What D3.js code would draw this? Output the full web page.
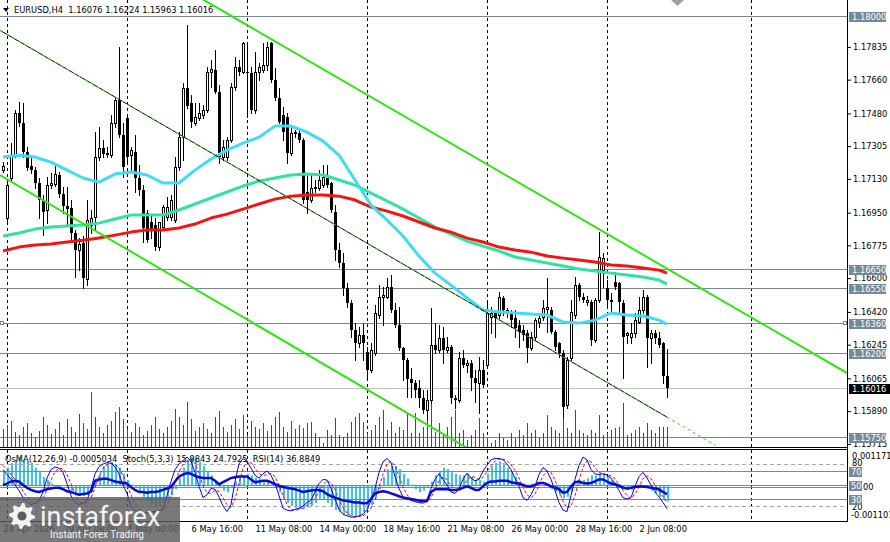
<!DOCTYPE html>
<meta charset="utf-8">
<style>
body { margin: 0; background: #fff; }
svg text { font-family: "DejaVu Sans", Tahoma, sans-serif; font-size: 8.3px; fill: #000; }
</style>
<body>
<script src="https://d3js.org/d3.v7.min.js"></script>
<script>
// EURUSD H4 bars, oldest first (24 Apr 20:00 .. 2 Jun 20:00)
var open = [1.17177,1.16921,1.17135,1.17257,1.17482,1.17428,1.17273,1.17199,1.17177,1.17108,
1.17017,1.16964,1.17097,1.17103,1.17151,1.17049,1.16985,1.16974,1.16841,1.16750,
1.16787,1.16595,1.16884,1.16926,1.17247,1.17295,1.17268,1.17257,1.17428,1.17551,
1.17364,1.17455,1.17257,1.17273,1.17135,1.17070,1.16948,1.16900,1.16884,1.16766,
1.16873,1.16926,1.16926,1.16910,1.17193,1.17353,1.17615,1.17535,1.17428,1.17455,
1.17471,1.17498,1.17701,1.17711,1.17594,1.17247,1.17247,1.17337,1.17620,1.17727,
1.17701,1.17701,1.17695,1.17498,1.17701,1.17711,1.17738,1.17855,1.17658,1.17562,
1.17471,1.17460,1.17268,1.17375,1.17375,1.17337,1.17060,1.17017,1.17081,1.17081,
1.17097,1.17135,1.17108,1.16953,1.16750,1.16681,1.16547,1.16467,1.16323,1.16253,
1.16296,1.16205,1.16109,1.16200,1.16403,1.16499,1.16499,1.16552,1.16430,1.16350,
1.16227,1.16163,1.16062,1.16040,1.16013,1.15960,1.15896,1.15949,1.16242,1.16216,
1.16280,1.16216,1.16232,1.15960,1.15949,1.16173,1.16136,1.16147,1.16067,1.16040,
1.16109,1.16136,1.16392,1.16414,1.16403,1.16494,1.16419,1.16419,1.16387,1.16350,
1.16323,1.16307,1.16227,1.16285,1.16366,1.16392,1.16435,1.16430,1.16312,1.16253,
1.16200,1.15922,1.16173,1.16403,1.16563,1.16499,1.16472,1.16472,1.16269,1.16483,
1.16643,1.16547,1.16483,1.16579,1.16574,1.16467,1.16296,1.16285,1.16307,1.16366,
1.16430,1.16499,1.16280,1.16307,1.16280,1.16253,1.16076];
var high = [1.17220,1.17113,1.17321,1.17498,1.17540,1.17535,1.17300,1.17247,1.17193,1.17135,
1.17044,1.17140,1.17161,1.17199,1.17167,1.17087,1.17087,1.17017,1.16857,1.16814,
1.16825,1.17017,1.16964,1.17380,1.17407,1.17337,1.17300,1.17471,1.17567,1.17834,
1.17428,1.17466,1.17300,1.17364,1.17204,1.17097,1.16964,1.16937,1.16921,1.16884,
1.16990,1.17033,1.17044,1.17247,1.17380,1.17642,1.17952,1.17578,1.17535,1.17535,
1.17524,1.17727,1.17765,1.17818,1.17631,1.17337,1.17353,1.17642,1.17781,1.17765,
1.17861,1.17861,1.17727,1.17807,1.17749,1.17855,1.17861,1.17861,1.17722,1.17615,
1.17514,1.17482,1.17407,1.17391,1.17391,1.17348,1.17161,1.17151,1.17124,1.17177,
1.17204,1.17204,1.17113,1.16990,1.16787,1.16734,1.16574,1.16483,1.16360,1.16339,
1.16360,1.16232,1.16253,1.16456,1.16563,1.16552,1.16600,1.16617,1.16467,1.16446,
1.16232,1.16173,1.16120,1.16056,1.16056,1.16002,1.16002,1.16440,1.16360,1.16350,
1.16339,1.16285,1.16242,1.15976,1.16205,1.16216,1.16163,1.16163,1.16109,1.16179,
1.16163,1.16472,1.16446,1.16430,1.16526,1.16504,1.16440,1.16430,1.16430,1.16376,
1.16350,1.16323,1.16312,1.16387,1.16414,1.16483,1.16600,1.16446,1.16323,1.16259,
1.16216,1.16179,1.16483,1.16606,1.16574,1.16520,1.16504,1.16483,1.16494,1.16846,
1.16734,1.16590,1.16520,1.16633,1.16579,1.16483,1.16312,1.16360,1.16414,1.16499,
1.16536,1.16510,1.16323,1.16323,1.16312,1.16259,1.16224];
var low = [1.17167,1.16905,1.17124,1.17247,1.17412,1.17247,1.17177,1.17161,1.17081,1.16921,
1.16830,1.16894,1.17081,1.17092,1.17033,1.16948,1.16884,1.16803,1.16606,1.16643,
1.16547,1.16563,1.16841,1.16857,1.17231,1.17247,1.17247,1.17247,1.17407,1.17353,
1.17140,1.17220,1.17177,1.17060,1.17044,1.16793,1.16793,1.16814,1.16750,1.16750,
1.16857,1.16910,1.16910,1.16900,1.17177,1.17231,1.17508,1.17407,1.17418,1.17444,
1.17455,1.17487,1.17620,1.17588,1.17215,1.17231,1.17231,1.17327,1.17604,1.17685,
1.17695,1.17460,1.17482,1.17482,1.17658,1.17701,1.17711,1.17647,1.17551,1.17428,
1.17337,1.17215,1.17257,1.17353,1.17327,1.17001,1.16948,1.17006,1.17060,1.17070,
1.17087,1.17087,1.16953,1.16697,1.16659,1.16510,1.16446,1.16285,1.16163,1.16232,
1.16163,1.16072,1.16099,1.16189,1.16387,1.16350,1.16494,1.16419,1.16339,1.16216,
1.16056,1.15965,1.15965,1.15965,1.15912,1.15880,1.15842,1.15933,1.16200,1.16205,
1.16147,1.16205,1.15933,1.15906,1.15938,1.16125,1.16099,1.16002,1.15938,1.15880,
1.16019,1.16125,1.16307,1.16285,1.16387,1.16403,1.16392,1.16339,1.16285,1.16232,
1.16269,1.16152,1.16216,1.16269,1.16339,1.16376,1.16312,1.16307,1.16216,1.16179,
1.15858,1.15906,1.16163,1.16387,1.16483,1.16472,1.16456,1.16242,1.16259,1.16472,
1.16552,1.16456,1.16414,1.16542,1.16414,1.16067,1.16253,1.16253,1.16285,1.16360,
1.16414,1.16125,1.16147,1.16253,1.16232,1.16040,1.15963];
var close = [1.17199,1.17097,1.17257,1.17482,1.17428,1.17273,1.17188,1.17177,1.17108,1.17017,
1.16953,1.17097,1.17108,1.17156,1.17049,1.16985,1.16969,1.16841,1.16750,1.16782,
1.16600,1.16910,1.16921,1.17247,1.17295,1.17263,1.17257,1.17428,1.17551,1.17364,
1.17193,1.17247,1.17284,1.17135,1.17070,1.16868,1.16803,1.16857,1.16766,1.16900,
1.16980,1.16980,1.17017,1.17193,1.17353,1.17615,1.17519,1.17434,1.17460,1.17482,
1.17498,1.17701,1.17717,1.17594,1.17247,1.17300,1.17337,1.17620,1.17727,1.17701,
1.17855,1.17695,1.17498,1.17701,1.17727,1.17738,1.17834,1.17658,1.17562,1.17434,
1.17380,1.17268,1.17375,1.17380,1.17337,1.17017,1.17017,1.17081,1.17087,1.17124,
1.17140,1.17097,1.16964,1.16750,1.16681,1.16547,1.16467,1.16323,1.16253,1.16296,
1.16253,1.16109,1.16216,1.16414,1.16499,1.16510,1.16552,1.16430,1.16350,1.16227,
1.16163,1.16062,1.16040,1.16002,1.15960,1.15896,1.15949,1.16242,1.16216,1.16280,
1.16216,1.16232,1.15960,1.15949,1.16173,1.16136,1.16147,1.16067,1.16040,1.16109,
1.16030,1.16414,1.16414,1.16387,1.16499,1.16430,1.16430,1.16376,1.16334,1.16312,
1.16296,1.16227,1.16285,1.16376,1.16387,1.16440,1.16446,1.16312,1.16232,1.16200,
1.15912,1.16163,1.16419,1.16563,1.16499,1.16483,1.16483,1.16269,1.16483,1.16713,
1.16707,1.16483,1.16472,1.16552,1.16472,1.16285,1.16307,1.16307,1.16376,1.16430,
1.16499,1.16280,1.16307,1.16280,1.16242,1.16076,1.16016];
var volume = [1800,2200,2600,1500,1200,2000,2400,1400,1000,1600,
3000,2200,1300,1800,2500,1200,2800,2000,1500,3300,
2400,1800,5500,3000,2000,1400,2200,2600,3500,4000,
2800,1800,1500,2400,2000,1200,1600,2200,3000,1800,
1400,2000,2600,3800,3000,2200,4500,2800,1600,2000,
2400,1800,1400,3000,3600,2000,1500,2200,2800,1800,
3200,1200,2600,2000,1800,2400,1600,2200,3000,3500,
2000,1500,2600,1800,2200,1870,2370,2530,1370,1030,
370,1700,1200,2870,1200,1000,1370,2500,3000,3370,
2500,1370,1700,2200,3000,3700,1700,2500,1370,2000,
1700,3370,1370,3370,1370,2000,2700,4700,1500,2370,
1200,2000,3000,3700,1370,1700,700,1200,1700,2870,
1370,870,370,700,1370,870,700,1370,870,1700,
1200,2370,1370,1700,870,1370,3200,2000,1700,1370,
2870,1870,1370,3700,1700,1370,1200,1700,1370,3200,
1200,1370,1700,1870,2000,4370,1200,1370,1700,2000,
1370,2370,1700,1370,2000,2000,2000];

// moving averages, read every 4th bar
var maBars = [0,4,8,12,16,20,24,28,32,36,40,44,48,52,56,60,64,68,72,76,80,84,88,92,96,100,
104,108,112,116,120,124,128,132,136,140,144,148,152,156,160,164,166];
var maFast = [1.17247,1.17257,1.17247,1.17220,1.17177,1.17135,1.17113,1.17156,1.17167,1.17151,
1.17108,1.17108,1.17177,1.17236,1.17284,1.17321,1.17353,1.17412,1.17412,1.17380,
1.17332,1.17257,1.17124,1.16990,1.16910,1.16825,1.16718,1.16627,1.16563,1.16494,
1.16430,1.16419,1.16414,1.16409,1.16403,1.16366,1.16360,1.16376,1.16414,1.16403,
1.16398,1.16376,1.16355];
var maMid = [1.16825,1.16841,1.16862,1.16873,1.16878,1.16884,1.16894,1.16916,1.16937,1.16937,
1.16937,1.16964,1.16996,1.17028,1.17060,1.17092,1.17118,1.17135,1.17151,1.17156,
1.17151,1.17124,1.17097,1.17054,1.17012,1.16969,1.16921,1.16873,1.16835,1.16798,
1.16771,1.16745,1.16713,1.16697,1.16681,1.16665,1.16649,1.16638,1.16627,1.16617,
1.16606,1.16590,1.16568];
var maSlow = [1.16745,1.16766,1.16777,1.16782,1.16793,1.16803,1.16814,1.16830,1.16846,1.16857,
1.16857,1.16868,1.16889,1.16921,1.16942,1.16969,1.16996,1.17022,1.17038,1.17044,
1.17044,1.17038,1.17017,1.16980,1.16958,1.16932,1.16900,1.16868,1.16846,1.16814,
1.16793,1.16766,1.16750,1.16739,1.16718,1.16707,1.16697,1.16686,1.16670,1.16665,
1.16654,1.16643,1.16627];

// sub window: OsMA(12,26,9), Stoch(5,3,3), RSI(14)
var osma = [0.00050,0.00060,0.00075,0.00085,0.00095,0.00085,0.00080,0.00075,0.00060,0.00050,
0.00030,0.00020,0.00008,0.00003,-0.00002,0.00002,-0.00005,-0.00015,-0.00025,-0.00030,
-0.00032,-0.00028,-0.00020,0.00010,0.00040,0.00065,0.00075,0.00078,0.00070,0.00060,
0.00040,0.00020,0.00005,-0.00005,-0.00018,-0.00035,-0.00050,-0.00060,-0.00068,-0.00065,
-0.00055,-0.00045,-0.00030,-0.00010,0.00025,0.00060,0.00085,0.00095,0.00090,0.00080,
0.00065,0.00050,0.00035,0.00015,-0.00005,-0.00015,-0.00020,-0.00005,0.00015,0.00030,
0.00035,0.00040,0.00035,0.00028,0.00025,0.00020,0.00015,0.00005,-0.00005,-0.00020,
-0.00040,-0.00055,-0.00065,-0.00072,-0.00075,-0.00075,-0.00070,-0.00065,-0.00055,-0.00045,
-0.00045,-0.00055,-0.00068,-0.00078,-0.00085,-0.00092,-0.00095,-0.00098,-0.00100,-0.00095,
-0.00085,-0.00075,-0.00060,-0.00040,-0.00010,0.00030,0.00055,0.00065,0.00065,0.00055,
0.00040,0.00025,0.00005,-0.00010,-0.00020,-0.00015,-0.00005,0.00015,0.00035,0.00050,
0.00060,0.00055,0.00045,0.00040,0.00035,0.00035,0.00040,0.00030,0.00020,0.00020,
0.00015,0.00040,0.00065,0.00075,0.00080,0.00075,0.00060,0.00045,0.00030,0.00015,
0.00008,0.00005,0.00008,0.00005,0.00003,0.00005,0.00000,-0.00010,-0.00020,-0.00030,
-0.00040,-0.00035,-0.00020,0.00005,0.00015,0.00020,0.00025,0.00035,0.00035,0.00040,
0.00040,0.00030,0.00020,0.00010,0.00005,-0.00005,-0.00013,-0.00012,-0.00005,0.00005,
0.00003,-0.00005,-0.00015,-0.00025,-0.00035,-0.00043,-0.0005034];
var stochMain = [72,65,58,50,42,32,26,22,24,28,
40,60,72,76,74,68,52,35,25,22,
24,28,45,66,76,80,82,81,76,66,
50,38,20,13,11,10,10,12,12,13,
16,35,55,72,80,85,90,84,68,48,
32,36,45,44,33,20,12,22,55,80,
88,84,74,64,60,66,70,64,52,35,
17,14,13,15,17,20,25,28,40,52,
58,57,45,30,15,8,6,4,4,6,
8,15,28,45,68,83,88,82,62,45,
33,30,28,26,25,24,28,45,58,66,
58,50,40,38,45,58,67,60,56,58,
70,78,86,88,88,86,80,72,60,48,
32,28,36,48,65,75,70,58,42,25,
14,12,35,58,78,90,86,72,66,65,
66,64,60,52,42,32,30,32,48,62,
68,60,50,40,33,25,15.9843];
var stochSignal = [78,72,65,58,50,41,33,27,24,25,
31,43,57,69,74,73,65,52,37,27,
24,25,32,46,62,74,79,81,80,74,
64,51,36,24,15,11,10,11,11,12,
14,21,35,54,69,79,85,86,81,67,
49,39,38,42,41,32,22,18,30,52,
74,84,82,74,66,63,65,67,62,50,
35,22,15,14,15,17,21,24,31,40,
50,56,53,44,30,18,10,6,5,5,
6,10,17,29,47,65,80,84,77,63,
47,36,30,28,26,25,26,32,44,56,
61,58,49,43,41,47,57,62,61,58,
61,69,78,84,87,87,85,79,71,60,
47,36,32,37,50,63,70,68,57,42,
27,17,20,35,57,75,85,83,75,68,
66,65,63,59,51,42,35,31,37,47,
59,63,59,50,41,33,24.7925];
var rsi = [50,52,55,56,55,50,46,43,41,40,
42,44,45,46,46,44,41,40,38,36,
37,38,41,56,58,59,59,57,55,54,
53,52,47,43,40,40,39,40,40,41,
43,45,47,55,62,65,67,66,63,61,
60,60,60,56,51,54,57,60,61,62,
62,62,58,54,55,56,56,54,51,49,
47,46,45,44,42,40,41,42,43,43,
41,37,34,32,30,28,27,26,25,25,
24,24,30,38,40,41,40,38,36,34,
32,31,30,29,28,27,27,40,44,44,
44,44,43,43,44,46,48,46,43,43,
48,53,55,55,56,56,56,54,53,52,
50,48,48,50,53,53,51,48,46,44,
39,40,48,54,55,53,52,53,55,58,
58,55,52,51,49,46,45,46,47,48,
48,47,46,45,44,40,36.8849];

// channel lines as [bar, price] anchors
var upperLine = [[50, 1.18088], [166, 1.16651]];
var lowerLine = [[0, 1.17141], [115, 1.15706]];
var midLine = [[0, 1.17914], [166, 1.15858]];
var midLineExt = [[166, 1.15858], [178, 1.15709]];

var levelPrices = [1.18000, 1.16650, 1.16550, 1.16360, 1.16200, 1.15750];
var bidPrice = 1.16016;
var priceTicks = [1.17835, 1.17660, 1.17480, 1.17305, 1.17130, 1.16950, 1.16775,
  1.16600, 1.16420, 1.16245, 1.16065, 1.15890, 1.15715];
var timeBars = [0, 15, 31, 47, 63, 79, 95, 111, 127, 143, 159];
var timeLabels = ["24 Apr 2026", "29 Apr 08:00", "4 May 00:00", "6 May 16:00", "11 May 08:00",
  "14 May 00:00", "18 May 16:00", "21 May 08:00", "26 May 00:00", "28 May 16:00", "2 Jun 08:00"];
var weekBars = [1, 31, 61, 91, 121, 151, 187];
var stochDashed = [80, 20];
var stochSolid = [70, 50, 30];

var W = 890, H = 542, plotR = 847;
var lime = "#2ee610";

var svg = d3.select("body").append("svg")
    .attr("width", W).attr("height", H)
    .style("display", "block");

var x = d3.scaleLinear().domain([0, 166]).range([3, 667]);
var y = d3.scaleLinear().domain([1.18, 1.15715]).range([16, 443.9]);
var yVol = d3.scaleLinear().domain([0, 10000]).range([447, 347]);
var yInd = d3.scaleLinear().domain([0, 100]).range([520, 450]);
var yOsma = d3.scaleLinear().domain([-0.001101, 0.001171]).range([520, 450]);

function px(v) { return Math.round(v) + 0.5; }

var defs = svg.append("defs");
defs.append("clipPath").attr("id", "clipMain")
  .append("rect").attr("x", 0).attr("y", 0).attr("width", plotR).attr("height", 447);
defs.append("clipPath").attr("id", "clipInd")
  .append("rect").attr("x", 0).attr("y", 450).attr("width", plotR).attr("height", 71);

var main = svg.append("g").attr("clip-path", "url(#clipMain)");
var ind = svg.append("g").attr("clip-path", "url(#clipInd)");

// week separators
[[main, 0, 447], [ind, 450, 521]].forEach(function(p) {
  p[0].selectAll("line.grid").data(weekBars).join("line")
      .attr("class", "grid")
      .attr("x1", function(d) { return px(x(d)); })
      .attr("x2", function(d) { return px(x(d)); })
      .attr("y1", p[1]).attr("y2", p[2])
      .attr("stroke", "#000").attr("stroke-dasharray", "3,3");
});

// horizontal levels + bid
main.selectAll("line.level").data(levelPrices).join("line")
    .attr("class", "level")
    .attr("x1", 0).attr("x2", plotR)
    .attr("y1", function(d) { return px(y(d)); })
    .attr("y2", function(d) { return px(y(d)); })
    .attr("stroke", "#778899");
main.append("line")
    .attr("x1", 0).attr("x2", plotR)
    .attr("y1", px(y(bidPrice))).attr("y2", px(y(bidPrice)))
    .attr("stroke", "#c0c0c0");

// volumes
main.selectAll("line.vol").data(volume).join("line")
    .attr("class", "vol")
    .attr("x1", function(d, i) { return px(x(i)); })
    .attr("x2", function(d, i) { return px(x(i)); })
    .attr("y1", yVol(0))
    .attr("y2", function(d) { return Math.round(yVol(d)); })
    .attr("stroke", "#008000");

// candles
var idx = d3.range(close.length);
main.selectAll("line.wick").data(idx).join("line")
    .attr("class", "wick")
    .attr("x1", function(i) { return px(x(i)); })
    .attr("x2", function(i) { return px(x(i)); })
    .attr("y1", function(i) { return Math.round(y(high[i])); })
    .attr("y2", function(i) { return Math.round(y(low[i])) + 1; })
    .attr("stroke", "#000");
main.selectAll("rect.body").data(idx).join("rect")
    .attr("class", "body")
    .each(function(i) {
      var xc = Math.round(x(i));
      var r = d3.select(this);
      if (close[i] >= open[i]) {
        var t = Math.round(y(close[i])), b = Math.round(y(open[i]));
        r.attr("x", xc - 0.5).attr("y", t + 0.5).attr("width", 2).attr("height", Math.max(b - t, 0.01))
         .attr("fill", "#fff").attr("stroke", "#000");
      } else {
        var t2 = Math.round(y(open[i])), b2 = Math.round(y(close[i]));
        r.attr("x", xc - 1).attr("y", t2).attr("width", 3).attr("height", Math.max(b2 - t2, 1))
         .attr("fill", "#000");
      }
    });

// moving averages
var maLine = d3.line()
    .x(function(d, k) { return x(maBars[k]); })
    .y(function(d) { return y(d); });
[[maMid, "#2fe3a0"], [maSlow, "#f51414"], [maFast, "#3fdcf5"]].forEach(function(m) {
  main.append("path").datum(m[0])
      .attr("d", maLine)
      .attr("fill", "none").attr("stroke", m[1])
      .attr("stroke-width", 3).attr("stroke-linejoin", "round");
});

// channel lines
function seg(a, b, x0, x1) {
  var xa = x(a[0]), ya = y(a[1]), xb = x(b[0]), yb = y(b[1]);
  var k = (yb - ya) / (xb - xa);
  return "M" + x0 + "," + (ya + k * (x0 - xa)) + "L" + x1 + "," + (ya + k * (x1 - xa));
}
main.append("path").attr("d", seg(upperLine[0], upperLine[1], 150, plotR))
    .attr("stroke", lime).attr("stroke-width", 2).attr("fill", "none");
main.append("path").attr("d", seg(lowerLine[0], lowerLine[1], 0, 520))
    .attr("stroke", lime).attr("stroke-width", 2).attr("fill", "none");
main.append("path").attr("d", seg(midLine[0], midLine[1], 0, x(midLine[1][0])))
    .attr("stroke", "#000").attr("stroke-width", 1).attr("fill", "none");
main.append("path").attr("d", seg(midLine[0], midLine[1], 0, x(midLine[1][0])))
    .attr("stroke", lime).attr("stroke-width", 1).attr("stroke-dasharray", "3,4").attr("fill", "none");
main.append("path").attr("d", seg(midLineExt[0], midLineExt[1], x(midLineExt[0][0]), x(midLineExt[1][0])))
    .attr("stroke", lime).attr("stroke-width", 1).attr("stroke-dasharray", "3,3").attr("fill", "none");

// small markers at the 1.16360 level
[0, 843].forEach(function(mx) {
  svg.append("rect").attr("x", mx + 0.5).attr("y", Math.round(y(1.16360)) - 1.5)
     .attr("width", 3).attr("height", 3).attr("fill", "#fff").attr("stroke", "#778899");
});

// sub window
ind.selectAll("rect.osma").data(osma).join("rect")
    .attr("class", "osma")
    .attr("x", function(d, i) { return Math.round(x(i)); })
    .attr("width", 2)
    .attr("y", function(d) { return Math.min(yOsma(d), yOsma(0)); })
    .attr("height", function(d) { return Math.abs(yOsma(d) - yOsma(0)); })
    .attr("fill", "#39c3f0");
ind.selectAll("line.dl").data(stochDashed).join("line")
    .attr("class", "dl")
    .attr("x1", 0).attr("x2", plotR)
    .attr("y1", function(d) { return px(yInd(d)); })
    .attr("y2", function(d) { return px(yInd(d)); })
    .attr("stroke", "#a8a8a8").attr("stroke-dasharray", "4,3");
ind.selectAll("line.sl").data(stochSolid).join("line")
    .attr("class", "sl")
    .attr("x1", 0).attr("x2", plotR)
    .attr("y1", function(d) { return px(yInd(d)); })
    .attr("y2", function(d) { return px(yInd(d)); })
    .attr("stroke", "#778899");
ind.append("line")
    .attr("x1", 0).attr("x2", plotR)
    .attr("y1", px(yOsma(0)) + 1).attr("y2", px(yOsma(0)) + 1)
    .attr("stroke", "#778899");

var indLine = function(s) {
  return d3.line().x(function(d, i) { return x(i); }).y(function(d) { return s(d); });
};
ind.append("path").datum(stochSignal).attr("d", indLine(yInd))
    .attr("fill", "none").attr("stroke", "#ff0000").attr("stroke-dasharray", "3,2");
ind.append("path").datum(stochMain).attr("d", indLine(yInd))
    .attr("fill", "none").attr("stroke", "#0000ff");
ind.append("path").datum(rsi).attr("d", indLine(yInd))
    .attr("fill", "none").attr("stroke", "#0b0bd0").attr("stroke-width", 2.5)
    .attr("stroke-linejoin", "round");

// frames
svg.append("line").attr("x1", 0).attr("x2", plotR).attr("y1", 447.5).attr("y2", 447.5).attr("stroke", "#000");
svg.append("line").attr("x1", 0).attr("x2", plotR).attr("y1", 449.5).attr("y2", 449.5).attr("stroke", "#000");
svg.append("line").attr("x1", 0).attr("x2", plotR).attr("y1", 521.5).attr("y2", 521.5).attr("stroke", "#000");
svg.append("line").attr("x1", plotR + 0.5).attr("x2", plotR + 0.5).attr("y1", 0).attr("y2", 522).attr("stroke", "#000");

// chart shift marker
svg.append("path").attr("d", "M671,0L684,0L677.5,6Z").attr("fill", "#a0a0a0");

// price axis
var yAxis = d3.axisRight(y).tickValues(priceTicks).tickSize(3).tickPadding(2)
    .tickFormat(d3.format(".5f"));
var gy = svg.append("g").attr("transform", "translate(" + (plotR + 1) + ",0)").call(yAxis);
gy.select(".domain").remove();

// level price boxes
svg.selectAll("g.lvl").data(levelPrices).join("g")
    .attr("class", "lvl")
    .attr("transform", function(d) { return "translate(849," + Math.round(y(d)) + ")"; })
    .each(function(d) {
      var g = d3.select(this);
      g.append("rect").attr("x", 0).attr("y", -4).attr("width", 37).attr("height", 10).attr("fill", "#778899");
      g.append("text").attr("x", 3).attr("y", 4).style("fill", "#fff").text(d3.format(".5f")(d));
    });
var gb = svg.append("g").attr("transform", "translate(849," + Math.round(y(bidPrice)) + ")");
gb.append("rect").attr("x", 0).attr("y", -4).attr("width", 41).attr("height", 10).attr("fill", "#000");
gb.append("text").attr("x", 3).attr("y", 4).style("fill", "#fff").text(d3.format(".5f")(bidPrice));

// sub window scale
svg.append("text").attr("x", 852).attr("y", yOsma(0.001171) + 9).text("0.001171");
svg.append("text").attr("x", 852).attr("y", yInd(80) + 2).text("80");
svg.append("text").attr("x", 863).attr("y", yInd(50) + 5).text("00");
svg.append("text").attr("x", 852).attr("y", yInd(20) + 4).text("20");
svg.append("text").attr("x", 851).attr("y", yOsma(-0.001101) - 2).text("-0.001101");
stochSolid.forEach(function(v) {
  var g = svg.append("g").attr("transform", "translate(849," + Math.round(yInd(v)) + ")");
  g.append("rect").attr("x", 0).attr("y", -4).attr("width", 13).attr("height", 10).attr("fill", "#778899");
  g.append("text").attr("x", 2).attr("y", 4).style("fill", "#fff").text(v);
});

// time axis (labels only, no tick marks)
var xAxis = d3.axisBottom(x).tickValues(timeBars).tickSize(0).tickPadding(5)
    .tickFormat(function(d, k) { return timeLabels[k]; });
var gx = svg.append("g").attr("transform", "translate(0,521)").call(xAxis);
gx.select(".domain").remove();
gx.selectAll(".tick text").attr("text-anchor", "start").attr("x", 0);

// headers
svg.append("path").attr("d", "M3,8L9,8L6,12Z").attr("fill", "#000");
svg.append("text").attr("x", 14).attr("y", 13).style("white-space", "pre")
    .text("EURUSD,H4  1.16076 1.16224 1.15963 1.16016");
svg.append("text").attr("x", 5).attr("y", 462).style("white-space", "pre")
    .text("OsMA(12,26,9) -0.0005034  Stoch(5,3,3) 15.9843 24.7925  RSI(14) 36.8849");

// watermark
var wm = svg.append("g");
wm.append("rect").attr("x", 0).attr("y", 497).attr("width", 180).attr("height", 45)
    .attr("fill", "#5c5c5c").attr("opacity", 0.82);
var gear = d3.range(32).map(function(k) { return [k * Math.PI / 16, (k % 4 < 2) ? 13 : 9.5]; });
wm.append("path").attr("transform", "translate(22,516)")
    .attr("d", d3.lineRadial().curve(d3.curveLinearClosed)(gear))
    .attr("fill", "#fff").attr("opacity", 0.9);
wm.append("circle").attr("cx", 22).attr("cy", 516).attr("r", 4.5).attr("fill", "#5c5c5c");
wm.append("text").attr("x", 40).attr("y", 526)
    .style("font-family", "Roboto, 'Open Sans', sans-serif").style("font-size", "27px")
    .style("fill", "#fff").style("opacity", 0.92).text("instaforex");
wm.append("text").attr("x", 50).attr("y", 538)
    .style("font-family", "Roboto, 'Open Sans', sans-serif").style("font-size", "10px")
    .style("fill", "#fff").style("opacity", 0.92).text("Instant Forex Trading");
</script>
</body>
